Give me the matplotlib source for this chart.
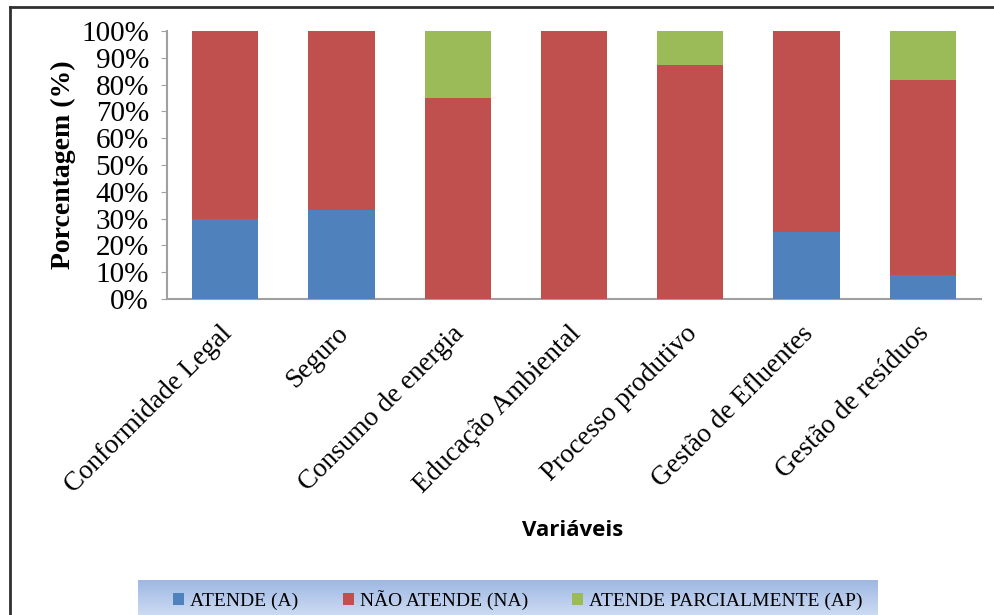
import matplotlib
matplotlib.use("Agg")
import matplotlib.pyplot as plt
import numpy as np
from matplotlib.lines import Line2D
from matplotlib.patches import Patch
from matplotlib import transforms

categories = ["Conformidade Legal", "Seguro", "Consumo de energia", "Educação Ambiental",
              "Processo produtivo", "Gestão de Efluentes", "Gestão de resíduos"]
atende = [30.0, 33.3, 0.0, 0.0, 0.0, 25.0, 9.1]
nao_atende = [70.0, 66.7, 75.0, 100.0, 87.5, 75.0, 72.7]
parcial = [0.0, 0.0, 25.0, 0.0, 12.5, 0.0, 18.2]
series_names = ["ATENDE (A)", "NÃO ATENDE (NA)", "ATENDE PARCIALMENTE (AP)"]
colors = ["#4F81BD", "#C0504D", "#9BBB59"]
yticks = list(range(0, 101, 10))

W, H = 994, 615
fig = plt.figure(figsize=(W / 100, H / 100), dpi=100)
serif = "Liberation Serif"

ax = fig.add_axes([167 / W, 1 - 299 / H, (981 - 167) / W, (299 - 31) / H])
x = np.arange(len(categories))
bw = 0.57
a = np.array(atende); n = np.array(nao_atende); p = np.array(parcial)
ax.bar(x, a, bw, color=colors[0], zorder=3)
ax.bar(x, n, bw, bottom=a, color=colors[1], zorder=3)
ax.bar(x, p, bw, bottom=a + n, color=colors[2], zorder=3)
ax.set_xlim(-0.5, len(categories) - 0.5)
ax.set_ylim(0, 100)
ax.set_yticks(yticks)
ax.set_yticklabels([f"{v}%" for v in yticks], fontfamily=serif, fontsize=21)
ax.tick_params(axis="y", direction="out", length=4, color="#A0A0A0", pad=9)
ax.set_xticks(x)
ax.set_xticklabels([])
ax.tick_params(axis="x", length=0)
offset = transforms.ScaledTranslation(-6 / 100, -22 / 100, fig.dpi_scale_trans)
for xi, cat in zip(x, categories):
    ax.text(xi, 0, cat, transform=ax.get_xaxis_transform() + offset,
            rotation=45, ha="right", va="top", rotation_mode="anchor",
            fontfamily=serif, fontsize=19.5)
for s in ["top", "right"]:
    ax.spines[s].set_visible(False)
for s in ["left", "bottom"]:
    ax.spines[s].set_color("#A0A0A0")
    ax.spines[s].set_linewidth(1.5)
ax.set_ylabel("Porcentagem (%)", fontfamily=serif, fontweight="bold", fontsize=20, labelpad=4)

fig.text(573 / W, 1 - 530 / H, "Variáveis", ha="center", va="center",
         fontfamily="Open Sans", fontweight="bold", fontsize=16)

# outer frame
fig.add_artist(Line2D([10 / W, 10 / W], [0, 1 - 7 / H], color="#303030", lw=2, transform=fig.transFigure))
fig.add_artist(Line2D([10 / W, 1], [1 - 7 / H, 1 - 7 / H], color="#303030", lw=2, transform=fig.transFigure))

# legend box with gradient
lax = fig.add_axes([138 / W, 0, (878 - 138) / W, 35 / H])
grad = np.linspace(0, 1, 100).reshape(-1, 1)
top = np.array([0.62, 0.72, 0.89]); bot = np.array([0.80, 0.86, 0.95])
img = top[None, None, :] * (1 - grad[:, :, None]) + bot[None, None, :] * grad[:, :, None]
lax.imshow(img, aspect="auto", extent=[0, 1, 0, 1])
lax.set_axis_off()
handles = [Patch(facecolor=c, edgecolor="none") for c in colors]
fig.legend(handles, series_names, loc="center", bbox_to_anchor=(518 / W, 1 - 600 / H),
           ncol=3, frameon=False, prop={"family": serif, "size": 14},
           handlelength=0.55, handleheight=0.55, handletextpad=0.3, columnspacing=2.3)

fig.savefig("out.png", dpi=100)
